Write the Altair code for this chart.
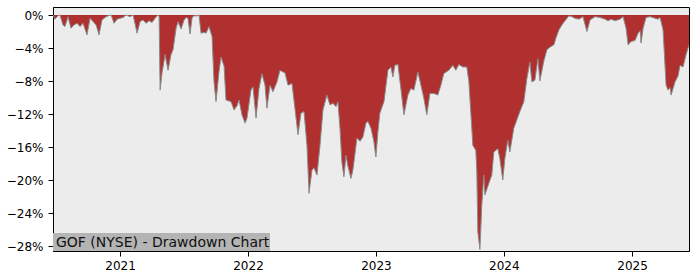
import altair as alt
import pandas as pd

TITLE = "GOF (NYSE) - Drawdown Chart"

# time as fractional years, drawdown in percent
years = [
    2020.477, 2020.492, 2020.516, 2020.531, 2020.555, 2020.570, 2020.594, 2020.617, 2020.641, 2020.664,
    2020.688, 2020.711, 2020.742, 2020.766, 2020.789, 2020.813, 2020.836, 2020.859, 2020.883, 2020.906,
    2020.930, 2020.953, 2020.977, 2021.000, 2021.023, 2021.047, 2021.078, 2021.102, 2021.133, 2021.156,
    2021.180, 2021.203, 2021.227, 2021.250, 2021.273, 2021.297, 2021.305, 2021.313, 2021.328, 2021.352,
    2021.375, 2021.398, 2021.414, 2021.438, 2021.453, 2021.477, 2021.500, 2021.516, 2021.531, 2021.547,
    2021.563, 2021.578, 2021.602, 2021.617, 2021.633, 2021.656, 2021.672, 2021.695, 2021.719, 2021.734,
    2021.750, 2021.773, 2021.789, 2021.813, 2021.828, 2021.867, 2021.891, 2021.914, 2021.930, 2021.953,
    2021.977, 2021.992, 2022.023, 2022.039, 2022.063, 2022.086, 2022.109, 2022.133, 2022.148, 2022.172,
    2022.195, 2022.227, 2022.250, 2022.273, 2022.289, 2022.313, 2022.344, 2022.367, 2022.391, 2022.414,
    2022.438, 2022.461, 2022.469, 2022.477, 2022.500, 2022.516, 2022.539, 2022.563, 2022.586, 2022.617,
    2022.641, 2022.664, 2022.688, 2022.703, 2022.719, 2022.734, 2022.750, 2022.766, 2022.781, 2022.805,
    2022.820, 2022.852, 2022.875, 2022.898, 2022.922, 2022.938, 2022.961, 2022.984, 2023.000, 2023.016,
    2023.031, 2023.063, 2023.094, 2023.117, 2023.133, 2023.148, 2023.172, 2023.195, 2023.219, 2023.250,
    2023.273, 2023.297, 2023.328, 2023.352, 2023.375, 2023.398, 2023.422, 2023.453, 2023.484, 2023.508,
    2023.531, 2023.570, 2023.602, 2023.625, 2023.648, 2023.680, 2023.711, 2023.727, 2023.758, 2023.781,
    2023.789, 2023.797, 2023.813, 2023.828, 2023.844, 2023.852, 2023.883, 2023.906, 2023.922, 2023.953,
    2023.969, 2023.992, 2024.008, 2024.031, 2024.047, 2024.078, 2024.102, 2024.125, 2024.156, 2024.180,
    2024.203, 2024.219, 2024.242, 2024.266, 2024.281, 2024.313, 2024.336, 2024.359, 2024.391, 2024.406,
    2024.430, 2024.453, 2024.477, 2024.508, 2024.531, 2024.555, 2024.586, 2024.617, 2024.648, 2024.672,
    2024.711, 2024.750, 2024.789, 2024.813, 2024.836, 2024.867, 2024.906, 2024.930, 2024.953, 2024.969,
    2024.992, 2025.023, 2025.047, 2025.063, 2025.070, 2025.086, 2025.109, 2025.141, 2025.180, 2025.203,
    2025.219, 2025.242, 2025.266, 2025.281, 2025.297, 2025.305, 2025.336, 2025.359, 2025.375, 2025.398,
    2025.422, 2025.445,
]

drawdown_pct = [
    0.0, -0.5, -0.1, 0.0, -1.2, -1.4, -0.2, -1.6, -1.2, -1.0,
    -1.4, -1.0, -2.4, -0.4, -0.8, -1.2, -2.4, -0.6, -0.3, -0.1,
    0.0, -1.0, -0.5, -0.4, -0.3, 0.0, -0.2, 0.0, -2.2, -0.8,
    -0.6, -1.0, -0.7, -0.9, -0.4, 0.0, -0.2, -9.1, -7.0, -4.8,
    -6.7, -4.8, -4.2, -1.6, -0.8, -1.7, -0.6, -0.3, -0.4, -2.3,
    -0.3, -0.1, -0.1, 0.0, -2.2, -2.1, -2.2, -1.4, -2.6, -8.0,
    -10.5, -6.9, -5.1, -6.2, -10.3, -10.5, -11.5, -11.0, -10.3, -12.1,
    -13.1, -12.5, -9.1, -8.7, -12.5, -8.9, -7.1, -8.5, -11.3, -8.5,
    -9.3, -8.1, -6.7, -6.9, -7.0, -8.5, -8.3, -11.3, -14.5, -11.9,
    -11.7, -15.8, -18.6, -21.6, -18.8, -18.5, -19.4, -15.8, -11.5, -9.7,
    -10.9, -10.7, -11.1, -10.5, -13.7, -17.8, -19.6, -17.0, -18.3, -19.8,
    -18.8, -14.9, -15.3, -14.8, -13.1, -12.9, -13.7, -15.3, -17.2, -14.1,
    -11.9, -10.5, -6.7, -6.3, -7.5, -6.1, -6.0, -8.9, -12.1, -9.7,
    -8.9, -9.1, -6.9, -8.5, -10.1, -12.1, -9.5, -9.5, -9.7, -8.5,
    -7.1, -6.7, -6.1, -6.7, -6.0, -6.3, -6.3, -8.1, -15.8, -16.4,
    -19.0, -26.3, -28.4, -23.0, -19.4, -21.8, -20.4, -19.4, -16.6, -16.2,
    -17.4, -20.0, -17.4, -15.2, -16.6, -13.7, -12.7, -11.7, -10.5, -7.7,
    -5.7, -8.1, -7.9, -5.3, -8.0, -5.5, -4.2, -3.9, -3.6, -2.8,
    -1.8, -1.2, -0.7, -0.1, -0.2, -0.4, -0.5, -0.2, -2.0, -0.6,
    -0.2, -0.3, -0.5, -0.7, -0.5, -0.7, -0.5, -0.2, -1.6, -3.6,
    -3.2, -3.1, -2.2, -1.9, -3.4, -1.6, -0.3, -0.2, -0.4, -0.5,
    -0.3, -1.8, -8.5, -9.1, -8.8, -9.7, -8.1, -7.4, -6.1, -6.3,
    -4.8, -3.6,
]

y_ticks = [0, -4, -8, -12, -16, -20, -24, -28]


def to_date(y):
    yr = int(y)
    start = pd.Timestamp(yr, 1, 1)
    end = pd.Timestamp(yr + 1, 1, 1)
    return (start + (end - start) * (y - yr)).strftime("%Y-%m-%dT%H:%M:%S")


df = pd.DataFrame({
    "date": [to_date(v) for v in years],
    "dd": drawdown_pct,
})

x_scale = alt.Scale(domain=[to_date(years[0]), to_date(years[-1])], nice=False)
y_scale = alt.Scale(domain=[-28.6, 0.97], nice=False, zero=False)

x_axis = alt.Axis(format="%Y", tickCount={"interval": "year", "step": 1},
                  grid=False, title=None, labelPadding=4, tickSize=5,
                  labelFontSize=12, labelColor="#000", tickColor="#000",
                  domainColor="#000", labelFont="DejaVu Sans",
                  labelFlush=False, labelOverlap=False)
y_axis = alt.Axis(values=y_ticks, grid=False, title=None,
                  labelExpr="replace(format(datum.value, 'd'), '-', '\u2212') + '%'",
                  labelPadding=5, tickSize=5, labelFontSize=12,
                  labelColor="#000", tickColor="#000", domainColor="#000",
                  labelFont="DejaVu Sans", labelOverlap=False,
                  labelFlush=False, labelBound=False)

base = alt.Chart(df).encode(
    x=alt.X("date:T", scale=x_scale, axis=x_axis),
    y=alt.Y("dd:Q", scale=y_scale, axis=y_axis),
)
area = base.mark_area(color="#b03030", opacity=1, clip=True).encode(
    y2=alt.value(0)
)
line = base.mark_line(color="#8a8a8a", strokeWidth=1, clip=True)

lab = alt.Chart(pd.DataFrame({"t": [TITLE]}))
box = lab.mark_rect(color="#b4b4b4", opacity=1).encode(
    x=alt.value(0), x2=alt.value(217), y=alt.value(226), y2=alt.value(244)
)
txt = lab.mark_text(align="left", baseline="alphabetic", font="DejaVu Sans",
                    fontSize=14, color="#111").encode(
    x=alt.value(3), y=alt.value(240), text="t:N"
)

chart = alt.layer(area, line, box, txt).properties(
    width=636, height=244,
    autosize=alt.AutoSizeParams(type="none"),
    padding={"left": 53, "top": 7, "right": 11, "bottom": 29},
    background="white",
).configure_view(
    fill="#ececec", stroke="#000", strokeWidth=1
).configure_axis(labelOverlap=False)

chart.save("out.html", embed_options={"renderer": "svg", "actions": False})
